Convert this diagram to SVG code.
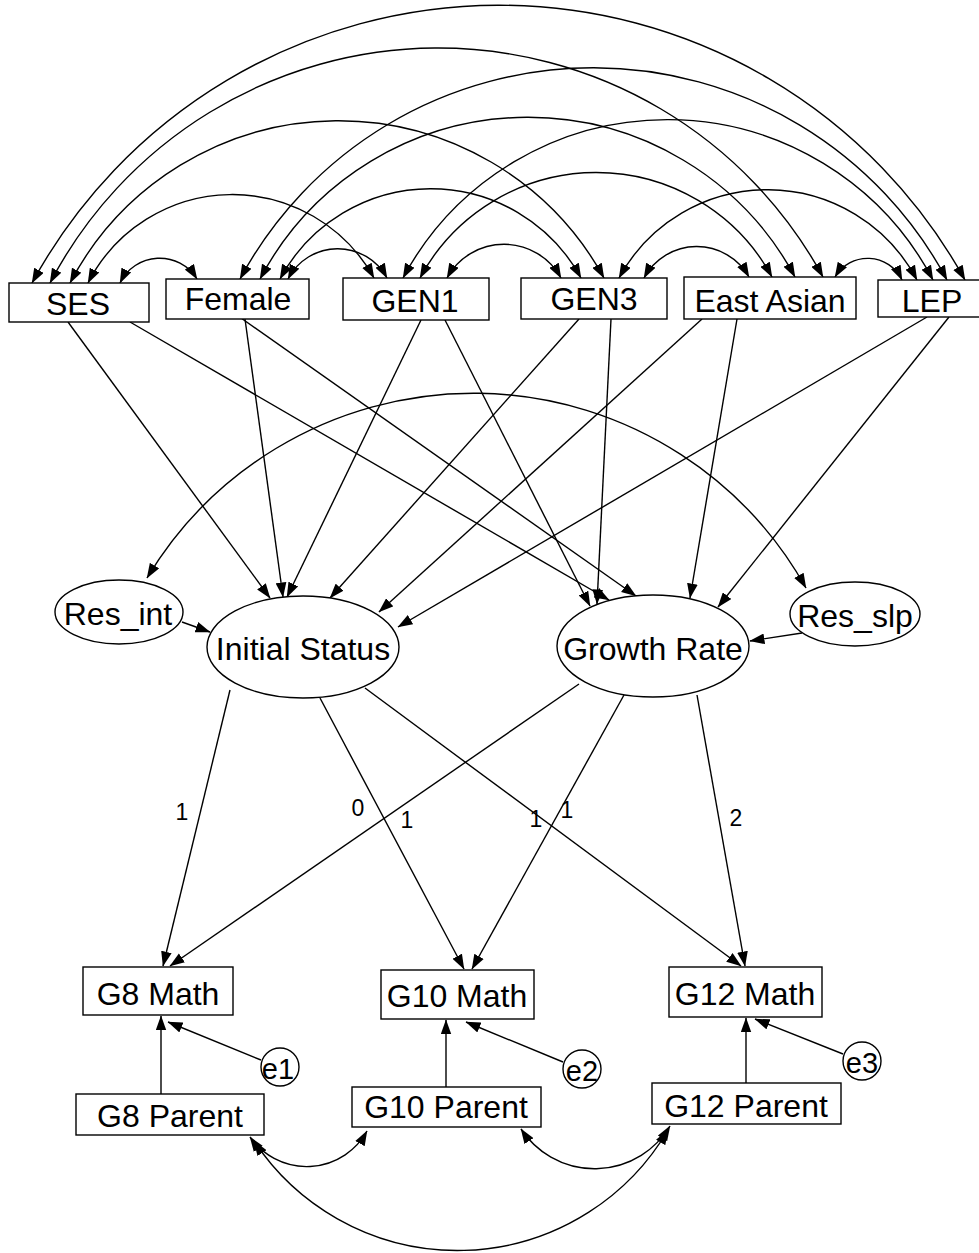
<svg xmlns="http://www.w3.org/2000/svg" width="979" height="1253" viewBox="0 0 979 1253">
<defs>
<marker id="ah" viewBox="0 0 14 10" refX="13.5" refY="5" markerWidth="15" markerHeight="11" markerUnits="userSpaceOnUse" orient="auto-start-reverse">
<path d="M0,0 L14,5 L0,10 z" fill="#000"/>
</marker>
<style>
.c{fill:none;stroke:#000;stroke-width:1.4;marker-end:url(#ah)}
.cov{fill:none;stroke:#000;stroke-width:1.4;marker-start:url(#ah);marker-end:url(#ah)}
.box{fill:#fff;stroke:#000;stroke-width:1.4}
.t{font-family:"Liberation Sans",Arial,sans-serif;font-size:32px;text-anchor:middle;fill:#000}
.e{font-family:"Liberation Sans",Arial,sans-serif;font-size:29px;text-anchor:middle;fill:#000}
.l{font-family:"Liberation Sans",Arial,sans-serif;font-size:23px;text-anchor:middle;fill:#000}
</style>
</defs>
<rect width="979" height="1253" fill="#fff"/>
<g id="connectors">
<path class="cov" d="M120,283 A44,44 0 0 1 197,279"/>
<path class="cov" d="M88,283 A162,162 0 0 1 374,278"/>
<path class="cov" d="M70,283 A303,303 0 0 1 604,278"/>
<path class="cov" d="M50,283 A438,438 0 0 1 823,277"/>
<path class="cov" d="M32,283 A532,532 0 0 1 965,280"/>
<path class="cov" d="M288,279 A56,56 0 0 1 387,278"/>
<path class="cov" d="M280,279 A171,171 0 0 1 581,278"/>
<path class="cov" d="M260,279 A303,303 0 0 1 795,277"/>
<path class="cov" d="M240,279 A401,401 0 0 1 947,280"/>
<path class="cov" d="M447,278 A65,65 0 0 1 561,278"/>
<path class="cov" d="M420,278 A200,200 0 0 1 772,277"/>
<path class="cov" d="M403,278 A300,300 0 0 1 933,280"/>
<path class="cov" d="M644,278 A60,60 0 0 1 749,277"/>
<path class="cov" d="M619,278 A169,169 0 0 1 917,280"/>
<path class="cov" d="M835,277 A38,38 0 0 1 902,280"/>
<path class="c" d="M68,322 L270,598"/>
<path class="c" d="M245,319 L283,597"/>
<path class="c" d="M421,320 L287,597"/>
<path class="c" d="M579,319 L330,598"/>
<path class="c" d="M702,319 L379,612"/>
<path class="c" d="M927,317 L398,627"/>
<path class="c" d="M130,322 L609,600"/>
<path class="c" d="M241,318 L636,596"/>
<path class="c" d="M445,320 L590,606"/>
<path class="c" d="M611,319 L597,604"/>
<path class="c" d="M737,319 L690,598"/>
<path class="c" d="M949,317 L718,607"/>
<path class="c" d="M182,622 L210,632"/>
<path class="c" d="M802,633 L750,641"/>
<path class="cov" d="M147,578 A381,381 0 0 1 806,588"/>
<path class="c" d="M230,690 L163,966"/>
<path class="c" d="M320,698 L464,969"/>
<path class="c" d="M365,688 L741,966"/>
<path class="c" d="M579,684 L170,966"/>
<path class="c" d="M624,695 L472,969"/>
<path class="c" d="M697,695 L745,966"/>
<path class="c" d="M161,1094 L161,1016"/>
<path class="c" d="M261,1060 L168,1022"/>
<path class="c" d="M446,1087 L446,1020"/>
<path class="c" d="M563,1062 L466,1022"/>
<path class="c" d="M746,1083 L746,1018"/>
<path class="c" d="M843,1054 L755,1019"/>
<path class="cov" d="M250,1137 A69,69 0 0 0 367,1131"/>
<path class="cov" d="M521,1129 A88,88 0 0 0 670,1126"/>
<path class="cov" d="M254,1141 A244,244 0 0 0 668,1130"/>
<text class="l" x="182" y="820">1</text>
<text class="l" x="358" y="816">0</text>
<text class="l" x="407" y="828">1</text>
<text class="l" x="536" y="827">1</text>
<text class="l" x="567" y="818">1</text>
<text class="l" x="736" y="826">2</text>
</g>
<g id="SES"><rect class="box" x="9" y="283" width="140" height="39"/><text class="t" x="78" y="315">SES</text></g>
<g id="Female"><rect class="box" x="166" y="279" width="143" height="40"/><text class="t" x="238" y="310">Female</text></g>
<g id="GEN1"><rect class="box" x="343" y="278" width="146" height="42"/><text class="t" x="415" y="312">GEN1</text></g>
<g id="GEN3"><rect class="box" x="521" y="278" width="146" height="41"/><text class="t" x="594" y="310">GEN3</text></g>
<g id="EastAsian"><rect class="box" x="684" y="277" width="172" height="42"/><text class="t" x="770" y="312">East Asian</text></g>
<g id="LEP"><rect class="box" x="878" y="280" width="115" height="37"/><text class="t" x="932" y="312">LEP</text></g>
<g id="Res_int"><ellipse class="box" cx="119" cy="612" rx="64" ry="32"/><text class="t" x="118" y="625">Res_int</text></g>
<g id="InitialStatus"><ellipse class="box" cx="303" cy="647" rx="96" ry="51"/><text class="t" x="303" y="660">Initial Status</text></g>
<g id="GrowthRate"><ellipse class="box" cx="653" cy="646" rx="96" ry="51"/><text class="t" x="653" y="660">Growth Rate</text></g>
<g id="Res_slp"><ellipse class="box" cx="855" cy="614" rx="65" ry="32"/><text class="t" x="855" y="627">Res_slp</text></g>
<g id="G8Math"><rect class="box" x="83" y="967" width="150" height="48"/><text class="t" x="158" y="1005">G8 Math</text></g>
<g id="G10Math"><rect class="box" x="381" y="970" width="153" height="49"/><text class="t" x="457" y="1007">G10 Math</text></g>
<g id="G12Math"><rect class="box" x="669" y="967" width="153" height="50"/><text class="t" x="745" y="1005">G12 Math</text></g>
<g id="G8Parent"><rect class="box" x="76" y="1094" width="188" height="41"/><text class="t" x="170" y="1127">G8 Parent</text></g>
<g id="G10Parent"><rect class="box" x="352" y="1087" width="189" height="40"/><text class="t" x="446" y="1118">G10 Parent</text></g>
<g id="G12Parent"><rect class="box" x="652" y="1083" width="189" height="41"/><text class="t" x="746" y="1117">G12 Parent</text></g>
<g id="e1"><circle class="box" cx="280" cy="1067" r="19"/><text class="e" x="278" y="1079">e1</text></g>
<g id="e2"><circle class="box" cx="582" cy="1069" r="19"/><text class="e" x="582" y="1081">e2</text></g>
<g id="e3"><circle class="box" cx="862" cy="1061" r="19"/><text class="e" x="862" y="1073">e3</text></g>
</svg>
